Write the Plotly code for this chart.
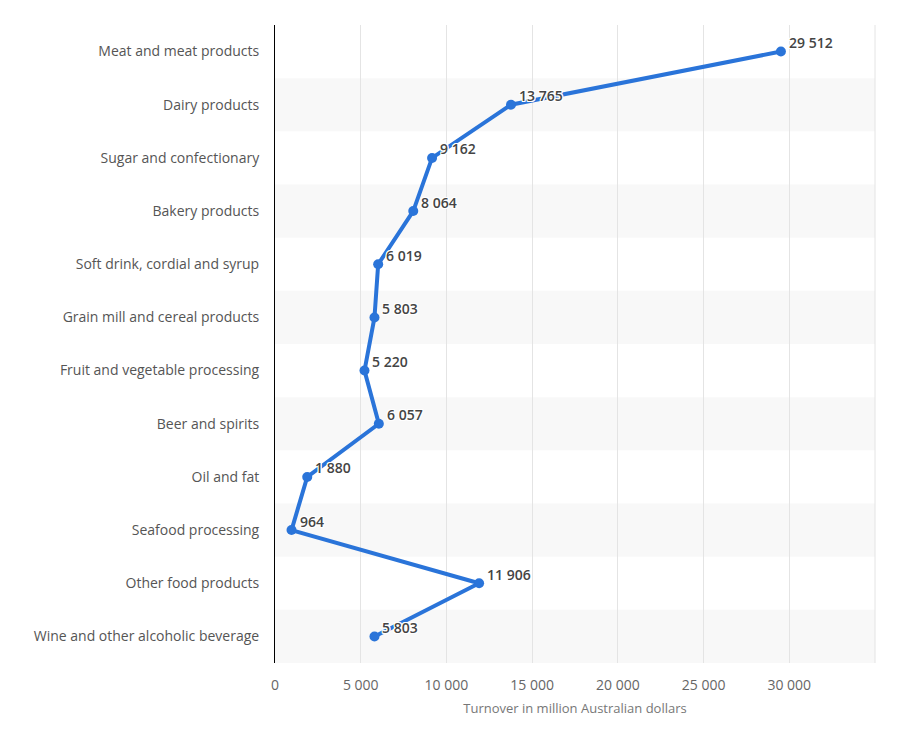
import plotly.graph_objects as go

categories = [
    "Meat and meat products",
    "Dairy products",
    "Sugar and confectionary",
    "Bakery products",
    "Soft drink, cordial and syrup",
    "Grain mill and cereal products",
    "Fruit and vegetable processing",
    "Beer and spirits",
    "Oil and fat",
    "Seafood processing",
    "Other food products",
    "Wine and other alcoholic beverage",
]
values = [29512, 13765, 9162, 8064, 6019, 5803, 5220, 6057, 1880, 964, 11906, 5803]
x_ticks = [0, 5000, 10000, 15000, 20000, 25000, 30000]
x_title = "Turnover in million Australian dollars"

line_color = "#2a74d9"

fig = go.Figure()

fig.add_trace(go.Scatter(
    x=values,
    y=categories,
    mode="lines+markers",
    line=dict(color=line_color, width=4),
    marker=dict(color=line_color, size=10),
    cliponaxis=False,
    hoverinfo="skip",
))

halo = "1px 1px 0px white, -1px -1px 0px white, 1px -1px 0px white, -1px 1px 0px white, 0px 1px 0px white, 0px -1px 0px white, 1px 0px 0px white, -1px 0px 0px white"
annotations = []
for cat, v in zip(categories, values):
    annotations.append(dict(
        x=v, y=cat, xref="x", yref="y",
        text=f"{v:,}".replace(",", " "),
        showarrow=False,
        xanchor="left", yanchor="middle",
        xshift=6, yshift=9,
        font=dict(family="Open Sans", size=14, color="#444444", weight=600, shadow=halo),
    ))

shapes = []
for i in range(len(categories)):
    if i % 2 == 1:
        shapes.append(dict(
            type="rect", xref="paper", yref="y",
            x0=0, x1=1, y0=i - 0.5, y1=i + 0.5,
            fillcolor="#f8f8f8", line=dict(width=0), layer="below",
        ))
shapes.append(dict(
    type="line", xref="paper", yref="paper",
    x0=1, x1=1, y0=0, y1=1,
    line=dict(color="#e4e4e4", width=1), layer="below",
))

fig.update_layout(
    width=904, height=753,
    margin=dict(l=267, r=37, t=17, b=98, autoexpand=False),
    paper_bgcolor="white",
    plot_bgcolor="white",
    showlegend=False,
    separators=". ",
    font=dict(family="Open Sans", size=13, color="#555555"),
    shapes=shapes,
    annotations=annotations,
    xaxis=dict(
        range=[0, 35000],
        tickvals=x_ticks,
        tickformat=",d",
        showgrid=True,
        gridcolor="#e4e4e4",
        gridwidth=1,
        zeroline=False,
        showline=False,
        ticks="",
        ticklabelstandoff=12,
        tickfont=dict(size=14, color="#666666"),
        title=dict(text=x_title, font=dict(size=13, color="#777777"), standoff=10),
    ),
    yaxis=dict(
        type="category",
        categoryorder="array",
        categoryarray=categories,
        range=[len(categories) - 0.5, -0.5],
        showgrid=False,
        zeroline=False,
        showline=True,
        linecolor="#000000",
        linewidth=1,
        ticks="",
        ticklabelstandoff=12,
        tickfont=dict(size=14, color="#555555"),
    ),
)

fig.write_html("out.html")
